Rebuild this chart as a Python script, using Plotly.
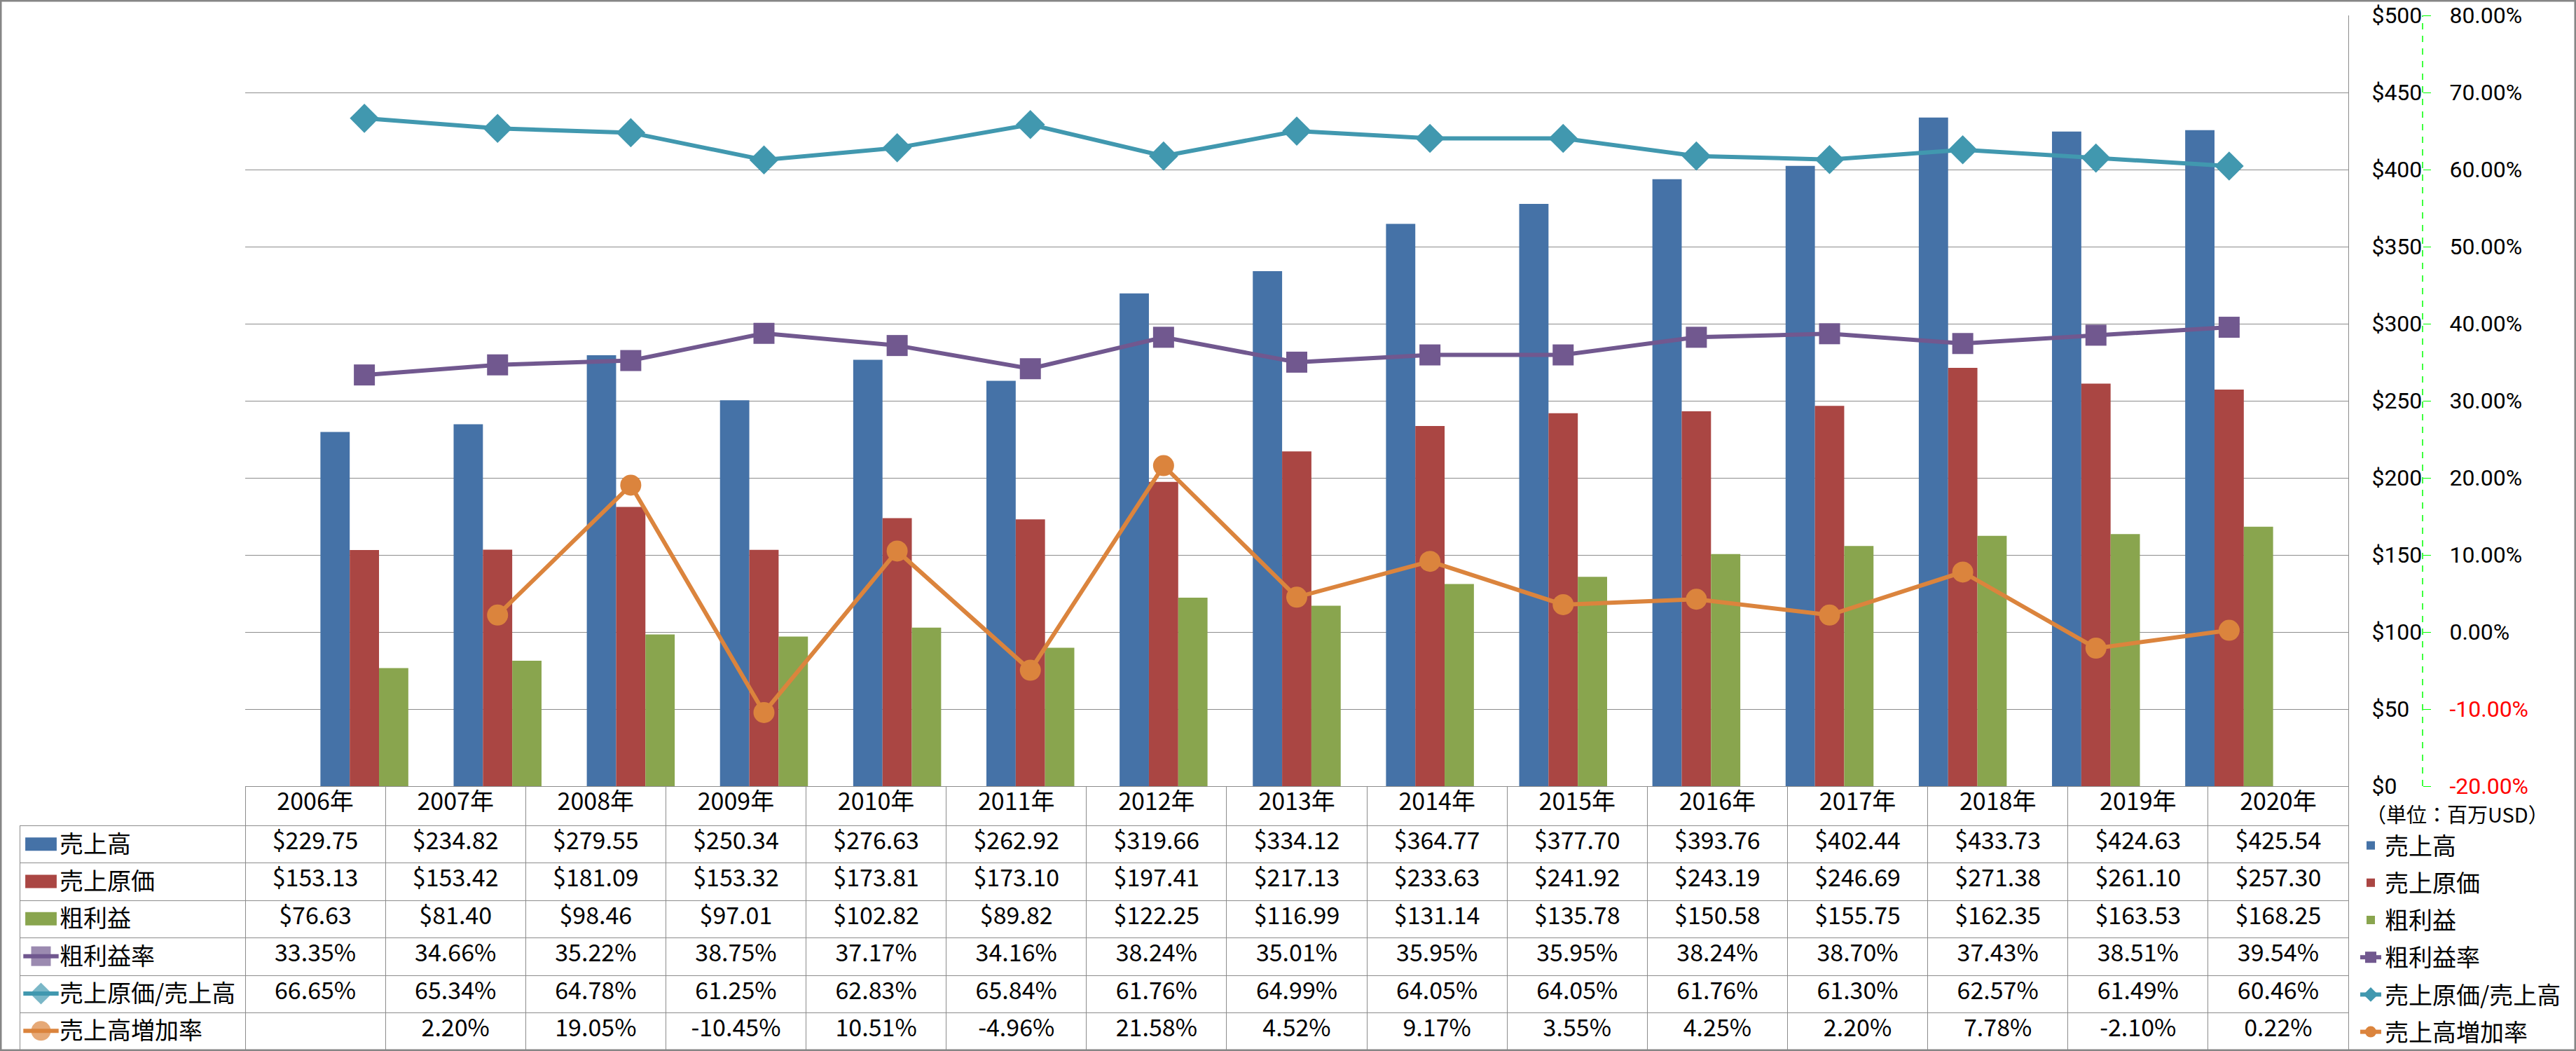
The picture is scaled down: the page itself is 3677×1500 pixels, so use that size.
import plotly.graph_objects as go

W, H = 3677, 1500

years = ["2006年", "2007年", "2008年", "2009年", "2010年", "2011年", "2012年", "2013年",
         "2014年", "2015年", "2016年", "2017年", "2018年", "2019年", "2020年"]
sales = [229.75, 234.82, 279.55, 250.34, 276.63, 262.92, 319.66, 334.12,
         364.77, 377.70, 393.76, 402.44, 433.73, 424.63, 425.54]
cogs = [153.13, 153.42, 181.09, 153.32, 173.81, 173.10, 197.41, 217.13,
        233.63, 241.92, 243.19, 246.69, 271.38, 261.10, 257.30]
gross = [76.63, 81.40, 98.46, 97.01, 102.82, 89.82, 122.25, 116.99,
         131.14, 135.78, 150.58, 155.75, 162.35, 163.53, 168.25]
gross_margin = [33.35, 34.66, 35.22, 38.75, 37.17, 34.16, 38.24, 35.01,
                35.95, 35.95, 38.24, 38.70, 37.43, 38.51, 39.54]
cogs_ratio = [66.65, 65.34, 64.78, 61.25, 62.83, 65.84, 61.76, 64.99,
              64.05, 64.05, 61.76, 61.30, 62.57, 61.49, 60.46]
growth = [None, 2.20, 19.05, -10.45, 10.51, -4.96, 21.58, 4.52,
          9.17, 3.55, 4.25, 2.20, 7.78, -2.10, 0.22]

series_names = ["売上高", "売上原価", "粗利益", "粗利益率", "売上原価/売上高", "売上高増加率"]

usd_ticks = [0, 50, 100, 150, 200, 250, 300, 350, 400, 450, 500]
pct_ticks = [-20, -10, 0, 10, 20, 30, 40, 50, 60, 70, 80]
unit_label = "（単位：百万USD）"

C_BLUE, C_RED, C_GREEN = "#4572A7", "#AA4643", "#89A54E"
C_PURPLE, C_TEAL, C_ORANGE = "#71588F", "#4198AF", "#DB843D"
GRAY = "#8C8C8C"
FONT = "Noto Sans CJK JP"
AXFONT = "Roboto"
FS = 34
AXFS = 32

# plot area in pixels
PL, PR, PT, PB = 350, 3352, 22, 1122
TABLE_LEFT = 28
HEADER_H = 56
ROW_H = 53.5

fig = go.Figure()

bar_colors = [C_BLUE, C_RED, C_GREEN]
for name, vals, col in zip(series_names[:3], [sales, cogs, gross], bar_colors):
    fig.add_trace(go.Bar(x=years, y=vals, name=name, marker=dict(color=col, line=dict(width=0)),
                         legendgroup=name, xaxis="x", yaxis="y"))

line_specs = [
    (series_names[3], gross_margin, C_PURPLE, "square", 30),
    (series_names[4], cogs_ratio, C_TEAL, "diamond", 32),
    (series_names[5], growth, C_ORANGE, "circle", 30),
]
for name, vals, col, sym, sz in line_specs:
    fig.add_trace(go.Scatter(x=years, y=[None if v is None else v / 100 for v in vals], name=name,
                             mode="lines+markers", line=dict(color=col, width=6),
                             marker=dict(symbol=sym, size=sz, color=col, line=dict(width=0)),
                             legendgroup=name, xaxis="x", yaxis="y2"))

# Data table
def money(v):
    return f"${v:.2f}"

def pct(v):
    return "" if v is None else f"{v:.2f}%"

col0 = [""] * len(series_names)
cols = []
for i in range(len(years)):
    cols.append([money(sales[i]), money(cogs[i]), money(gross[i]),
                 pct(gross_margin[i]), pct(cogs_ratio[i]), pct(growth[i])])

ncol = len(years)
colw = (PR - PL) / ncol
fig.add_trace(go.Table(
    domain=dict(x=[TABLE_LEFT / W, PR / W], y=[0, 1 - PB / H]),
    columnwidth=[PL - TABLE_LEFT] + [colw] * ncol,
    header=dict(values=[""] + years, height=HEADER_H,
                fill=dict(color=["rgba(0,0,0,0)"] + ["white"] * ncol),
                line=dict(color=["rgba(0,0,0,0)"] + [GRAY] * ncol, width=1),
                align="center", font=dict(family=FONT, size=FS, color="black")),
    cells=dict(values=[col0] + cols, height=ROW_H,
               fill=dict(color="rgba(0,0,0,0)"),
               line=dict(color=GRAY, width=1),
               align=["left"] + ["center"] * ncol,
               font=dict(family=FONT, size=FS, color="black")),
))

# legend keys in table label column (helper axes)
key_x = 30.5
fig.add_trace(go.Scatter(
    x=[key_x] * 3, y=series_names[:3], mode="markers", showlegend=False, hoverinfo="skip",
    marker=dict(symbol="line-ew", size=32, line=dict(width=19, color=bar_colors)),
    xaxis="x3", yaxis="y3"))
fig.add_trace(go.Scatter(
    x=[key_x] * 3, y=series_names[3:], mode="markers", showlegend=False, hoverinfo="skip",
    marker=dict(symbol="line-ew", size=36, line=dict(width=6, color=[C_PURPLE, C_TEAL, C_ORANGE])),
    xaxis="x3", yaxis="y3"))
fig.add_trace(go.Scatter(
    x=[key_x] * 3, y=series_names[3:], mode="markers", showlegend=False, hoverinfo="skip",
    marker=dict(symbol=["square", "diamond", "circle"], size=[28, 24, 28],
                color=[C_PURPLE, C_TEAL, C_ORANGE], line=dict(width=0)),
    xaxis="x3", yaxis="y3"))

body_top = PB + HEADER_H
fig.update_layout(
    width=W, height=H,
    margin=dict(l=0, r=0, t=0, b=0, autoexpand=False),
    paper_bgcolor="white", plot_bgcolor="white",
    font=dict(family=FONT, size=FS, color="black"),
    barmode="group", bargap=0.34, bargroupgap=0,
    xaxis=dict(domain=[PL / W, PR / W], showticklabels=False, ticks="", showgrid=False,
               showline=False, zeroline=False, fixedrange=True),
    yaxis=dict(domain=[1 - PB / H, 1 - PT / H], range=[0, 500], side="right", anchor="x",
               tickvals=usd_ticks, ticktext=[f"${v}" for v in usd_ticks],
               showgrid=True, gridcolor=GRAY, gridwidth=1, zeroline=False,
               showline=True, linecolor=GRAY, linewidth=1, ticks="",
               ticklabelstandoff=26, ticklabeloverflow="allow",
               tickfont=dict(family=AXFONT, size=AXFS, color="black")),
    yaxis2=dict(overlaying="y", side="right", anchor="free", position=3458 / W,
                range=[-0.2, 0.8], tickvals=[v / 100 for v in pct_ticks],
                ticktext=[(f"<span style='color:#FF0000'>{v:.2f}%</span>" if v < 0 else f"{v:.2f}%")
                          for v in pct_ticks],
                showgrid=False, zeroline=False, showline=False,
                ticks="outside", ticklen=11, tickcolor="#00FF00", tickwidth=1,
                ticklabelstandoff=20, ticklabeloverflow="allow",
                tickfont=dict(family=AXFONT, size=AXFS, color="black")),
    xaxis3=dict(domain=[TABLE_LEFT / W, PL / W], range=[0, PL - TABLE_LEFT], visible=False,
                anchor="y3", fixedrange=True),
    yaxis3=dict(domain=[(H - 1498) / H, (H - body_top) / H], type="category",
                categoryarray=series_names[::-1], range=[-0.5, 5.5],
                side="right", anchor="free", position=84 / W,
                showgrid=False, showline=False, zeroline=False, ticks="",
                ticklabeloverflow="allow", ticklabelstandoff=0,
                tickfont=dict(family=FONT, size=FS, color="black"), fixedrange=True),
    legend=dict(x=3364 / W, y=1 - 1178 / H, xanchor="left", yanchor="top",
                font=dict(family=FONT, size=FS, color="black"),
                traceorder="grouped", tracegroupgap=6, bgcolor="rgba(0,0,0,0)"),
    showlegend=True,
    annotations=[dict(text=unit_label, x=3375 / W, y=1 - 1161 / H, xref="paper", yref="paper",
                      xanchor="left", yanchor="middle", showarrow=False,
                      font=dict(family=FONT, size=29, color="black"))],
    shapes=[
        dict(type="line", xref="paper", yref="y", x0=3458 / W, x1=3458 / W, y0=0, y1=500,
             line=dict(color="#00FF00", width=1.5, dash="dash")),
        dict(type="rect", xref="paper", yref="paper", x0=0, x1=1, y0=0, y1=1,
             line=dict(color="#868686", width=5)),
    ],
)

fig.write_html("out.html", config={"displayModeBar": False},
               post_script="document.body.style.margin='0px';document.body.style.overflow='hidden';")
